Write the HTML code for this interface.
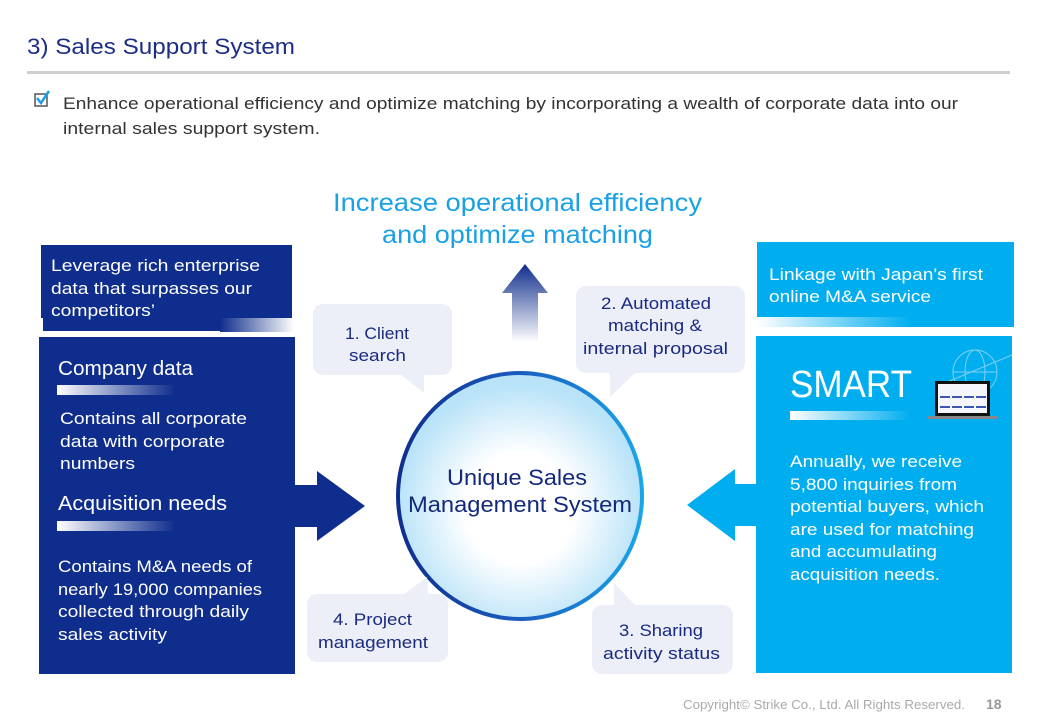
<!DOCTYPE html>
<html><head><meta charset="utf-8"><style>html,body{margin:0;padding:0;background:#fff}svg{display:block}text{font-family:"Liberation Sans",sans-serif}</style></head>
<body>
<svg width="1050" height="727" viewBox="0 0 1050 727" xmlns="http://www.w3.org/2000/svg">
<defs>
<linearGradient id="wfade" x1="0" x2="1"><stop offset="0" stop-color="#fff"/><stop offset="1" stop-color="#fff" stop-opacity="0"/></linearGradient>
<linearGradient id="lstrip" x1="0" x2="1"><stop offset="0" stop-color="#0f2d8c"/><stop offset="1" stop-color="#fff"/></linearGradient>
<linearGradient id="rstrip" x1="0" x2="1"><stop offset="0" stop-color="#fff"/><stop offset="0.6" stop-color="#00aeef"/><stop offset="1" stop-color="#00aeef"/></linearGradient>
<linearGradient id="up" x1="0" y1="0" x2="0" y2="1"><stop offset="0" stop-color="#0f2d8c"/><stop offset="1" stop-color="#0f2d8c" stop-opacity="0"/></linearGradient>
<linearGradient id="ring" x1="0" x2="1"><stop offset="0" stop-color="#0f2d8c"/><stop offset="0.5" stop-color="#1a5dbf"/><stop offset="1" stop-color="#1aa5e8"/></linearGradient>
<radialGradient id="fill" cx="0.5" cy="0.55" r="0.5"><stop offset="0.45" stop-color="#fff"/><stop offset="1" stop-color="#b9e3f8"/></radialGradient>
</defs>

<!-- header -->
<text x="27" y="54" font-size="22" fill="#1c2d86" textLength="268" lengthAdjust="spacingAndGlyphs">3) Sales Support System</text>
<rect x="27" y="71" width="983" height="3" fill="#cfcfcf"/>
<rect x="35" y="94" width="12" height="12" fill="none" stroke="#555" stroke-width="1.5"/>
<path d="M37 98 L41 103 L49 91" fill="none" stroke="#1a9fe6" stroke-width="2.5"/>
<text x="63" y="109" font-size="17" fill="#333" textLength="895" lengthAdjust="spacingAndGlyphs">Enhance operational efficiency and optimize matching by incorporating a wealth of corporate data into our</text>
<text x="63" y="134" font-size="17" fill="#333" textLength="257" lengthAdjust="spacingAndGlyphs">internal sales support system.</text>

<text x="333" y="211" font-size="25" fill="#1aa0e6" textLength="369" lengthAdjust="spacingAndGlyphs">Increase operational efficiency</text>
<text x="382" y="243" font-size="25" fill="#1aa0e6" textLength="271" lengthAdjust="spacingAndGlyphs">and optimize matching</text>

<!-- left -->
<rect x="41" y="245" width="251" height="73" fill="#0f2d8c"/>
<rect x="43" y="318" width="249" height="13" fill="#0f2d8c"/>
<rect x="220" y="318" width="74" height="14" fill="url(#lstrip)"/>
<rect x="39" y="337" width="256" height="337" fill="#0f2d8c"/>
<polygon points="295,485 317,485 317,471 365,506 317,541 317,527 295,527" fill="#0f2d8c"/>
<g fill="#fff" font-size="17">
<text x="51" y="271" textLength="209" lengthAdjust="spacingAndGlyphs">Leverage rich enterprise</text>
<text x="51" y="294" textLength="201" lengthAdjust="spacingAndGlyphs">data that surpasses our</text>
<text x="51" y="316" textLength="104" lengthAdjust="spacingAndGlyphs">competitors’</text>
<text x="58" y="375" font-size="20" textLength="135" lengthAdjust="spacingAndGlyphs">Company data</text>
<text x="60" y="424" textLength="187" lengthAdjust="spacingAndGlyphs">Contains all corporate</text>
<text x="60" y="447" textLength="165" lengthAdjust="spacingAndGlyphs">data with corporate</text>
<text x="60" y="469" textLength="75" lengthAdjust="spacingAndGlyphs">numbers</text>
<text x="58" y="510" font-size="20" textLength="169" lengthAdjust="spacingAndGlyphs">Acquisition needs</text>
<text x="58" y="572" textLength="194" lengthAdjust="spacingAndGlyphs">Contains M&amp;A needs of</text>
<text x="58" y="595" textLength="204" lengthAdjust="spacingAndGlyphs">nearly 19,000 companies</text>
<text x="58" y="617" textLength="191" lengthAdjust="spacingAndGlyphs">collected through daily</text>
<text x="58" y="640" textLength="109" lengthAdjust="spacingAndGlyphs">sales activity</text>
</g>
<rect x="57" y="385" width="118" height="10" fill="url(#wfade)"/>
<rect x="57" y="521" width="118" height="10" fill="url(#wfade)"/>

<!-- right -->
<rect x="757" y="242" width="257" height="75" fill="#00aeef"/>
<rect x="757" y="317" width="257" height="10" fill="url(#rstrip)"/>
<rect x="756" y="336" width="256" height="337" fill="#00aeef"/>
<polygon points="756,484 735,484 735,469 687,505 735,541 735,526 756,526" fill="#00aeef"/>
<g fill="#fff" font-size="17">
<text x="769" y="280" textLength="214" lengthAdjust="spacingAndGlyphs">Linkage with Japan's first</text>
<text x="769" y="302" textLength="162" lengthAdjust="spacingAndGlyphs">online M&amp;A service</text>
<text x="790" y="397" font-size="38" textLength="122" lengthAdjust="spacingAndGlyphs">SMART</text>
<text x="790" y="467" textLength="172" lengthAdjust="spacingAndGlyphs">Annually, we receive</text>
<text x="790" y="490" textLength="167" lengthAdjust="spacingAndGlyphs">5,800 inquiries from</text>
<text x="790" y="512" textLength="194" lengthAdjust="spacingAndGlyphs">potential buyers, which</text>
<text x="790" y="535" textLength="184" lengthAdjust="spacingAndGlyphs">are used for matching</text>
<text x="790" y="557" textLength="147" lengthAdjust="spacingAndGlyphs">and accumulating</text>
<text x="790" y="580" textLength="150" lengthAdjust="spacingAndGlyphs">acquisition needs.</text>
</g>
<rect x="790" y="411" width="120" height="9" fill="url(#wfade)"/>
<g fill="none" stroke="#7fd0f2" stroke-width="1">
<circle cx="975" cy="372" r="22"/><ellipse cx="975" cy="372" rx="10" ry="22"/><line x1="953" y1="372" x2="997" y2="372"/><line x1="940" y1="385" x2="1012" y2="355"/>
</g>
<rect x="935" y="381" width="55" height="35" fill="#111"/>
<rect x="938" y="384" width="49" height="29" fill="#f4f6fb"/>
<g fill="#3a56b0"><rect x="940" y="396" width="10" height="2"/><rect x="952" y="396" width="10" height="2"/><rect x="964" y="396" width="10" height="2"/><rect x="976" y="396" width="10" height="2"/><rect x="940" y="406" width="10" height="2"/><rect x="952" y="406" width="10" height="2"/><rect x="964" y="406" width="10" height="2"/><rect x="976" y="406" width="10" height="2"/></g>
<rect x="928" y="416" width="69" height="3" fill="#888"/>

<!-- up arrow -->
<polygon points="525,264 548,293 538,293 538,342 512,342 512,293 502,293" fill="url(#up)"/>

<!-- circle -->
<ellipse cx="520" cy="496" rx="122" ry="123" fill="url(#fill)" stroke="url(#ring)" stroke-width="4"/>
<text x="447" y="485" font-size="22" fill="#14297d" textLength="140" lengthAdjust="spacingAndGlyphs">Unique Sales</text>
<text x="408" y="512" font-size="22" fill="#14297d" textLength="224" lengthAdjust="spacingAndGlyphs">Management System</text>

<!-- bubbles -->
<g fill="#eceff8">
<rect x="313" y="304" width="139" height="71" rx="10"/><polygon points="400,374 424,374 424,393"/>
<rect x="576" y="286" width="169" height="87" rx="10"/><polygon points="610,372 636,372 610,397"/>
<rect x="307" y="594" width="141" height="68" rx="10"/><polygon points="403,595 428,595 427,577"/>
<rect x="592" y="605" width="141" height="69" rx="10"/><polygon points="614,606 636,606 614,583"/>
</g>
<g fill="#1a2a80" font-size="17">
<text x="345" y="339" textLength="64" lengthAdjust="spacingAndGlyphs">1. Client</text>
<text x="349" y="361" textLength="57" lengthAdjust="spacingAndGlyphs">search</text>
<text x="601" y="309" textLength="110" lengthAdjust="spacingAndGlyphs">2. Automated</text>
<text x="608" y="331" textLength="94" lengthAdjust="spacingAndGlyphs">matching &amp;</text>
<text x="583" y="354" textLength="145" lengthAdjust="spacingAndGlyphs">internal proposal</text>
<text x="333" y="625" textLength="79" lengthAdjust="spacingAndGlyphs">4. Project</text>
<text x="318" y="648" textLength="110" lengthAdjust="spacingAndGlyphs">management</text>
<text x="619" y="636" textLength="84" lengthAdjust="spacingAndGlyphs">3. Sharing</text>
<text x="603" y="659" textLength="117" lengthAdjust="spacingAndGlyphs">activity status</text>
</g>

<!-- footer -->
<text x="683" y="709" font-size="12.5" fill="#aaa" textLength="282" lengthAdjust="spacingAndGlyphs">Copyright© Strike Co., Ltd. All Rights Reserved.</text>
<text x="986" y="709" font-size="14" font-weight="bold" fill="#999">18</text>
</svg>
</body></html>
